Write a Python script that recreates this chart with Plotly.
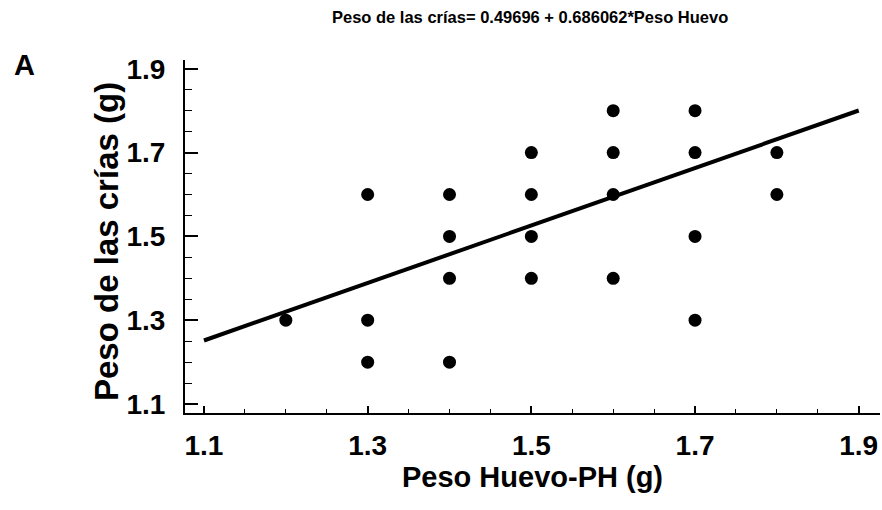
import plotly.graph_objects as go

peso_huevo = [1.2, 1.3, 1.3, 1.3, 1.4, 1.4, 1.4, 1.4, 1.5, 1.5, 1.5, 1.5,
              1.6, 1.6, 1.6, 1.6, 1.7, 1.7, 1.7, 1.7, 1.8, 1.8]
peso_crias = [1.3, 1.6, 1.3, 1.2, 1.6, 1.5, 1.4, 1.2, 1.7, 1.6, 1.5, 1.4,
              1.8, 1.7, 1.6, 1.4, 1.8, 1.7, 1.5, 1.3, 1.7, 1.6]
intercept = 0.49696
slope = 0.686062
line_x = [1.1, 1.9]
line_y = [intercept + slope * v for v in line_x]
tick_vals = [1.1, 1.3, 1.5, 1.7, 1.9]
tick_text = ["1.1", "1.3", "1.5", "1.7", "1.9"]

FONT = "Liberation Sans, Arial, sans-serif"
L, R, T, B = 185, 2, 60, 97
PW, PH = 882 - L - R, 510 - T - B

fig = go.Figure()
fig.add_trace(go.Scatter(x=line_x, y=line_y, mode="lines",
                         line=dict(color="black", width=4), hoverinfo="skip"))
fig.add_trace(go.Scatter(x=peso_huevo, y=peso_crias, mode="markers",
                         marker=dict(color="black", size=13)))

fig.update_layout(
    width=882, height=510,
    margin=dict(l=L, r=R, t=T, b=B),
    plot_bgcolor="white", paper_bgcolor="white",
    showlegend=False,
    font=dict(family=FONT, color="black"),
)
fig.update_xaxes(
    range=[1.0768, 1.926], tickvals=tick_vals, ticktext=tick_text,
    showgrid=False, zeroline=False, showline=True, linecolor="black", linewidth=2,
    ticks="inside", ticklen=7, tickwidth=1.5, tickcolor="black",
    minor=dict(dtick=0.05, tick0=1.1, ticks="inside", ticklen=4, tickwidth=1, tickcolor="black"),
    tickfont=dict(size=28, family=FONT, weight="bold"),
    ticklabelstandoff=6,
    title=dict(text="<b>Peso Huevo-PH (g)</b>", font=dict(size=29, family=FONT), standoff=6),
)
fig.update_yaxes(
    range=[1.0786, 1.921], tickvals=tick_vals, ticktext=tick_text,
    showgrid=False, zeroline=False, showline=True, linecolor="black", linewidth=2,
    ticks="inside", ticklen=13, tickwidth=1.5, tickcolor="black",
    minor=dict(dtick=0.05, tick0=1.1, ticks="inside", ticklen=7, tickwidth=1, tickcolor="black"),
    tickfont=dict(size=28, family=FONT, weight="bold"),
    ticklabelstandoff=12,
)
fig.add_annotation(text="<b>Peso de las crías (g)</b>", textangle=-90,
                   xref="paper", yref="paper",
                   x=(106 - L) / PW, y=(510 - B - 242) / PH,
                   xanchor="center", yanchor="middle", showarrow=False,
                   font=dict(size=33, family=FONT))
fig.add_annotation(text="<b>Peso de las crías= 0.49696 + 0.686062*Peso Huevo</b>",
                   xref="paper", yref="paper", x=(530 - L) / PW, y=1 + (T - 17) / PH,
                   xanchor="center", yanchor="middle", showarrow=False,
                   font=dict(size=16.5, family=FONT))
fig.add_annotation(text="<b>A</b>", xref="paper", yref="paper",
                   x=(12 - L) / PW, y=1 + (T - 65) / PH,
                   xanchor="left", yanchor="middle", showarrow=False,
                   font=dict(size=29, family=FONT))

fig.write_html("out.html")
